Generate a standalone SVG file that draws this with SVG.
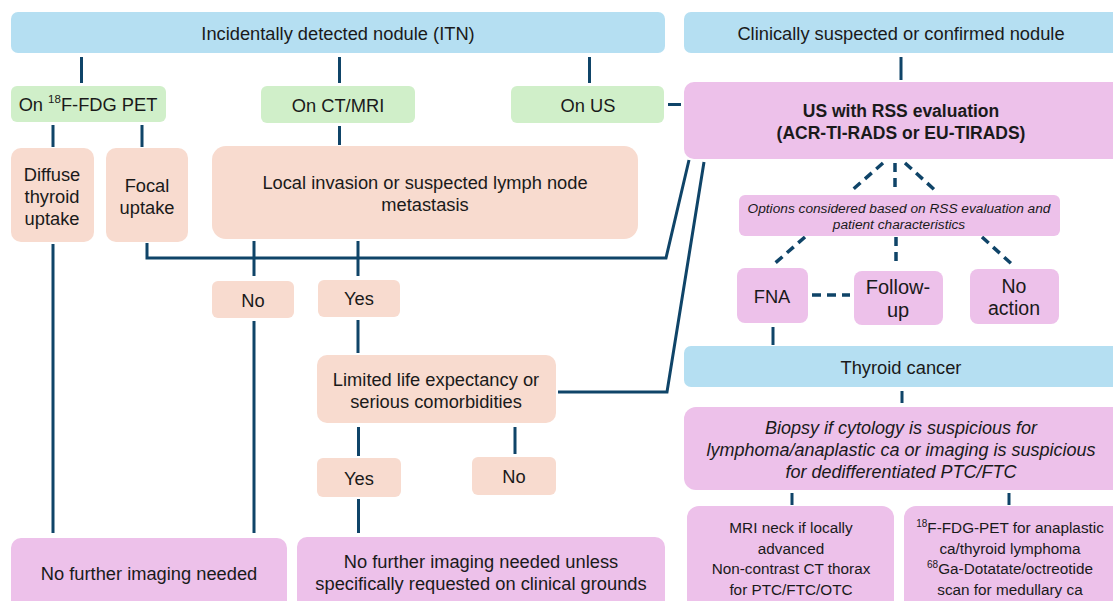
<svg xmlns="http://www.w3.org/2000/svg" width="1113" height="601" viewBox="0 0 1113 601">
<style>
text{font-family:"Liberation Sans",Arial,sans-serif;fill:#1a1a1a;text-anchor:middle;dominant-baseline:central;}
.t{font-size:18.3px;}
.blue{fill:#b5dff2;}
.green{fill:#d0efc9;}
.peach{fill:#f8dbcf;}
.pink{fill:#edc1ea;}
.ln{stroke:#0f4468;stroke-width:3;fill:none;}
.ds{stroke:#0f4468;stroke-width:3.5;fill:none;stroke-dasharray:9 6;}
.sup{font-size:11.5px;}
</style>
<rect width="1113" height="601" fill="#ffffff"/>
<g id="connectors">
<path class="ln" d="M81.5 57V83M339.5 57V83M589.5 57V83M901 57V80"/>
<path class="ln" d="M668 104.5H681"/>
<path class="ln" d="M53 125V147M142 125V147M339.5 126V145"/>
<path class="ln" d="M147 243V258H666L689 160"/>
<path class="ln" d="M254 241V276M358 241V276"/>
<path class="ln" d="M558 392H667L704 162"/>
<path class="ln" d="M53 244V533M254 321V533M358 320V353"/>
<path class="ln" d="M358.5 427V456M515 427V454M358.5 499V533"/>
<path class="ds" d="M883 163L850 192M895 163V192M905 163L937 192"/>
<path class="ds" d="M805 237L773 265M896 237V267M982 237L1015 267M812 295H850"/>
<path class="ln" d="M773 327V345M902 391V403M792 493V505M1009 493V505"/>
</g>
<g id="itn"><rect class="blue" x="11" y="12" width="654" height="41" rx="7"/><text class="t" x="338" y="33">Incidentally detected nodule (ITN)</text></g>
<g id="clinical"><rect class="blue" x="684" y="12" width="440" height="41" rx="7"/><text class="t" x="901" y="33">Clinically suspected or confirmed nodule</text></g>
<g id="pet"><rect class="green" x="11" y="86" width="155" height="36" rx="6"/><text class="t" x="88" y="104">On <tspan class="sup" dy="-5">18</tspan><tspan dy="5">F-FDG PET</tspan></text></g>
<g id="ctmri"><rect class="green" x="261" y="86" width="154" height="37" rx="6"/><text class="t" x="338" y="105">On CT/MRI</text></g>
<g id="onus"><rect class="green" x="511" y="86" width="153" height="37" rx="6"/><text class="t" x="588" y="105">On US</text></g>
<g id="usrss"><rect class="pink" x="684" y="82" width="440" height="77" rx="10"/><text x="901" y="111" font-size="17.5" font-weight="bold">US with RSS evaluation</text><text x="901" y="133" font-size="17.5" font-weight="bold">(ACR-TI-RADS or EU-TIRADS)</text></g>
<g id="diffuse"><rect class="peach" x="11" y="148" width="83" height="94" rx="10"/><text class="t" x="52" y="174">Diffuse</text><text class="t" x="52" y="196">thyroid</text><text class="t" x="52" y="218">uptake</text></g>
<g id="focal"><rect class="peach" x="106" y="148" width="82" height="94" rx="10"/><text class="t" x="147" y="185">Focal</text><text class="t" x="147" y="207">uptake</text></g>
<g id="local"><rect class="peach" x="212" y="146" width="426" height="93" rx="14"/><text class="t" x="425" y="182">Local invasion or suspected lymph node</text><text class="t" x="425" y="204">metastasis</text></g>
<g id="no1"><rect class="peach" x="212" y="281" width="82" height="37" rx="6"/><text class="t" x="253" y="300">No</text></g>
<g id="yes1"><rect class="peach" x="318" y="280" width="82" height="37" rx="6"/><text class="t" x="359" y="298">Yes</text></g>
<g id="limited"><rect class="peach" x="317" y="355" width="239" height="68" rx="10"/><text class="t" x="436" y="379">Limited life expectancy or</text><text class="t" x="436" y="401">serious comorbidities</text></g>
<g id="yes2"><rect class="peach" x="317" y="458" width="84" height="39" rx="6"/><text class="t" x="359" y="478">Yes</text></g>
<g id="no2"><rect class="peach" x="472" y="457" width="84" height="38" rx="6"/><text class="t" x="514" y="476">No</text></g>
<g id="nofurther1"><rect class="pink" x="11" y="538" width="276" height="75" rx="10"/><text class="t" x="149" y="573">No further imaging needed</text></g>
<g id="nofurther2"><rect class="pink" x="297" y="537" width="368" height="76" rx="10"/><text class="t" x="481" y="561">No further imaging needed unless</text><text class="t" x="481" y="583">specifically requested on clinical grounds</text></g>
<g id="options"><rect class="pink" x="739" y="195" width="321" height="41" rx="6"/><text x="899" y="208" font-size="13.7" font-style="italic">Options considered based on RSS evaluation and</text><text x="899" y="224" font-size="13.7" font-style="italic">patient characteristics</text></g>
<g id="fna"><rect class="pink" x="737" y="268" width="71" height="55" rx="8"/><text class="t" x="772" y="296">FNA</text></g>
<g id="followup"><rect class="pink" x="854" y="271" width="89" height="54" rx="8"/><text x="898" y="287" font-size="20">Follow-</text><text x="898" y="310" font-size="20">up</text></g>
<g id="noaction"><rect class="pink" x="970" y="269" width="89" height="55" rx="8"/><text x="1014" y="286" font-size="19.5">No</text><text x="1014" y="308" font-size="19.5">action</text></g>
<g id="thyroid"><rect class="blue" x="684" y="346" width="440" height="41" rx="7"/><text class="t" x="901" y="367">Thyroid cancer</text></g>
<g id="biopsy"><rect class="pink" x="684" y="407" width="440" height="83" rx="12"/><text x="901" y="428" font-size="18" font-style="italic">Biopsy if cytology is suspicious for</text><text x="901" y="450" font-size="18" font-style="italic">lymphoma/anaplastic ca or imaging is suspicious</text><text x="901" y="472" font-size="18" font-style="italic">for dedifferentiated PTC/FTC</text></g>
<g id="mri"><rect class="pink" x="687" y="506" width="207" height="110" rx="12"/><text x="791" y="527" font-size="15.3">MRI neck if locally</text><text x="791" y="548" font-size="15.3">advanced</text><text x="791" y="568" font-size="15.3">Non-contrast CT thorax</text><text x="791" y="589" font-size="15.3">for PTC/FTC/OTC</text></g>
<g id="fdgpet"><rect class="pink" x="904" y="506" width="220" height="110" rx="12"/><text x="1010" y="527" font-size="15.3"><tspan font-size="10" dy="-4">18</tspan><tspan dy="4">F-FDG-PET for anaplastic</tspan></text><text x="1010" y="548" font-size="15.3">ca/thyroid lymphoma</text><text x="1010" y="568" font-size="15.3"><tspan font-size="10" dy="-4">68</tspan><tspan dy="4">Ga-Dotatate/octreotide</tspan></text><text x="1010" y="589" font-size="15.3">scan for medullary ca</text></g>
</svg>
